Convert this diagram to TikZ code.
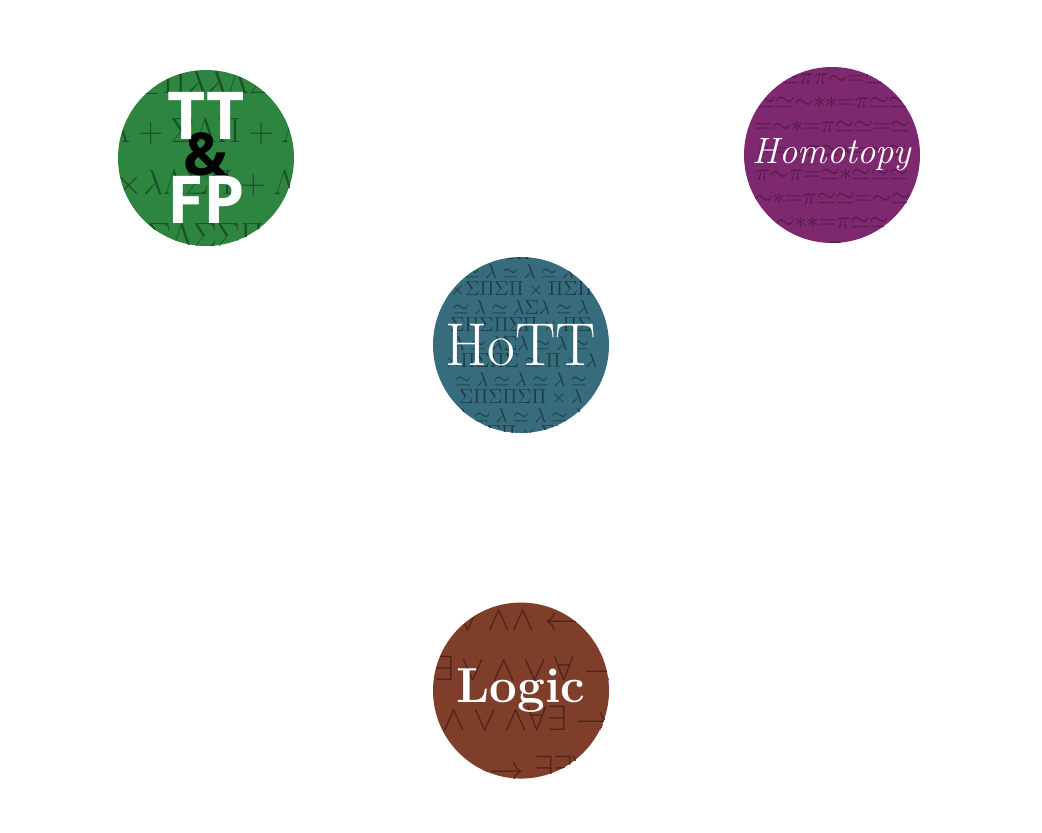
\documentclass[tikz,border=0pt]{standalone}
\usepackage{fontspec}
\newfontfamily\badgesans{Open Sans}
\usetikzlibrary{positioning,calc}
\definecolor{ttfpgreen}{RGB}{46,133,64}
\definecolor{homotopypurple}{RGB}{126,40,112}
\definecolor{hottteal}{RGB}{55,108,125}
\definecolor{logicbrown}{RGB}{127,62,42}
\tikzstyle{badge} = [circle, minimum size=4.4cm, inner sep=0pt, text=white, align=center]
\tikzstyle{symrow} = [inner sep=0pt, anchor=center]
\newcommand{\tightmath}{\medmuskip=0mu\thickmuskip=0mu}

\begin{document}
\begin{tikzpicture}
\useasboundingbox (0,0) rectangle (26.05,-20.825);

\node [badge, fill=ttfpgreen, font=\badgesans\bfseries\fontsize{47}{60}\selectfont,
  path picture={
    \foreach \rw [count=\i] in {\angle\Pi\lambda\lambda\Lambda\Sigma, \Lambda+\Sigma\Lambda\Pi+\Lambda, \times\lambda\Lambda\Sigma\Pi+\Lambda, \Sigma\Lambda\Sigma\Sigma\Pi}
      \node [symrow, text=ttfpgreen!60!black, font=\fontsize{28}{28}\selectfont] (ttfp row \i) at ([yshift=3.25cm-\i*1.3cm]path picture bounding box.center) {$\rw$};
    \node [symrow, text=black, font=\badgesans\bfseries\fontsize{42}{42}\selectfont] (ttfp amp) at ([yshift=0.1cm]path picture bounding box.center) {\&};
  }] (ttfp) at (5.15,-3.95) {TT\\FP};

\node [badge, fill=homotopypurple, font=\itshape\fontsize{26}{26}\selectfont,
  path picture={
    \foreach \rw [count=\i] in {\simeq\pi\pi\sim=\simeq, \simeq\simeq\sim\ast\ast=\pi\simeq\simeq, =\sim\ast=\pi\simeq\simeq=\simeq, \ast=\sim\pi\simeq\ast=\sim\simeq, \pi\sim\pi=\simeq\ast\simeq\simeq\simeq, \sim\ast=\pi\simeq\simeq=\sim\simeq, \sim\ast\ast=\pi\simeq\simeq, \simeq=\pi\sim\ast}
      \node [symrow, text=homotopypurple!65!black, font=\fontsize{17}{17}\selectfont\tightmath] (homotopy row \i) at ([yshift=2.5cm-\i*0.6cm]path picture bounding box.center) {$\rw$};
  }] (homotopy) at (20.8,-3.875) {Homotopy};

\node [badge, fill=hottteal, font=\fontsize{43}{43}\selectfont,
  path picture={
    \foreach \rw [count=\i] in {\Pi\Sigma\Pi\Sigma\Pi\times\Sigma\Pi, \lambda\simeq\lambda\simeq\lambda\simeq\lambda\simeq, \times\Sigma\Pi\Sigma\Pi\times\Pi\Sigma\Pi, \simeq\lambda\simeq\lambda\Sigma\lambda\simeq\lambda, \Sigma\Pi\Sigma\Pi\Sigma\Pi\times\Pi\Sigma, \lambda\simeq\lambda\Sigma\lambda\simeq\lambda\simeq, \times\Pi\Sigma\Pi\Sigma\simeq\Pi\times\lambda, \simeq\lambda\simeq\lambda\simeq\lambda\simeq, \Sigma\Pi\Sigma\Pi\Sigma\Pi\times\lambda, \lambda\simeq\lambda\simeq\lambda\simeq\lambda, \Pi\Sigma\Pi\times\Sigma\Pi}
      \node [symrow, text=hottteal!55!black, font=\fontsize{14}{14}\selectfont] (hott row \i) at ([yshift=2.75cm-\i*0.45cm]path picture bounding box.center) {$\rw$};
  }] (hott) at (13.025,-8.625) {HoTT};

\node [badge, fill=logicbrown, below=4.225cm of hott, font=\bfseries\fontsize{35}{35}\selectfont,
  path picture={
    \foreach \rw [count=\i] in {\exists\vee\wedge\wedge\leftarrow\vee, \to\exists\vee\wedge\vee\forall\to\vee, \to\wedge\vee\wedge\forall\exists\to\wedge, \forall\leftarrow\to\exists\exists\forall\vee}
      \node [symrow, text=logicbrown!60!black, font=\fontsize{26}{26}\selectfont] (logic row \i) at ([yshift=3.05cm-\i*1.25cm]path picture bounding box.center) {$\rw$};
  }] (logic) {Logic};
\end{tikzpicture}
\end{document}
